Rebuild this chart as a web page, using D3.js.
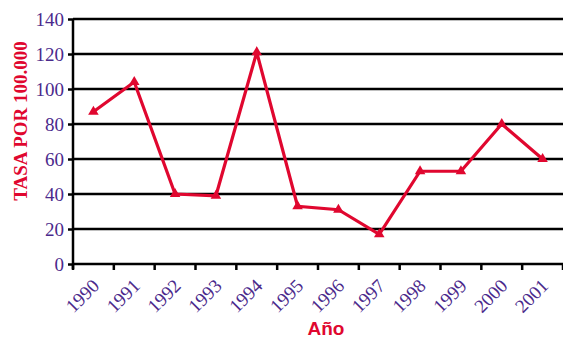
<!DOCTYPE html>
<html>
<head>
<meta charset="utf-8">
<script src="https://cdn.jsdelivr.net/npm/d3@7"></script>
<style>
  html, body { margin: 0; padding: 0; background: #fff; }
  svg { display: block; }
</style>
</head>
<body>
<svg id="chart" width="563" height="338"></svg>
<script>
// Annual rate per 100,000, 1990–2001
const years = ["1990","1991","1992","1993","1994","1995","1996","1997","1998","1999","2000","2001"];
const rates = [87, 104, 40, 39, 121, 33, 31, 17, 53, 53, 80, 60];
const yTicks = [0, 20, 40, 60, 80, 100, 120, 140];

const svg = d3.select("#chart");
const margin = { top: 19, right: 0, bottom: 74, left: 73 };
const W = 563, H = 338;
const innerW = W - margin.left - margin.right;
const innerH = H - margin.top - margin.bottom;

const purple = "#4b2a8c";
const red = "#e0072f";
const serif = "'Liberation Serif', 'Times New Roman', serif";

const g = svg.append("g").attr("transform", `translate(${margin.left},${margin.top})`);

const x = d3.scaleBand().domain(years).range([0, innerW]).padding(0);
const y = d3.scaleLinear().domain([0, 140]).range([innerH, 0]);

// horizontal gridlines
g.append("g")
  .selectAll("line")
  .data(yTicks.filter(d => d > 0))
  .join("line")
  .attr("x1", 0).attr("x2", innerW)
  .attr("y1", d => y(d)).attr("y2", d => y(d))
  .attr("stroke", "#000").attr("stroke-width", 2.5);

// y axis
const yAxis = g.append("g")
  .call(d3.axisLeft(y).tickValues(yTicks).tickSize(5).tickPadding(4).tickFormat(d3.format("d")));
yAxis.select(".domain").attr("stroke", "#000").attr("stroke-width", 2.5).attr("d", `M0,${innerH + 5}V0`);
yAxis.selectAll(".tick line").attr("stroke", "#000").attr("stroke-width", 2.5);
yAxis.selectAll(".tick text")
  .attr("fill", purple).attr("font-family", serif).attr("font-size", 19)
  .attr("dy", "0.32em");

// x axis with ticks at category boundaries
const xAxis = g.append("g").attr("transform", `translate(0,${innerH})`);
xAxis.append("line")
  .attr("x1", 0).attr("x2", innerW).attr("y1", 0).attr("y2", 0)
  .attr("stroke", "#000").attr("stroke-width", 2.5);
const boundaries = years.map(d => x(d)).concat([innerW]);
xAxis.selectAll("line.tk")
  .data(boundaries)
  .join("line").attr("class", "tk")
  .attr("x1", d => d).attr("x2", d => d)
  .attr("y1", 0).attr("y2", 6)
  .attr("stroke", "#000").attr("stroke-width", 2.5);
xAxis.selectAll("text")
  .data(years)
  .join("text")
  .attr("transform", d => `translate(${x(d) + x.bandwidth() / 2 + 7},${23}) rotate(-45)`)
  .attr("text-anchor", "end")
  .attr("fill", purple).attr("font-family", serif).attr("font-size", 19)
  .text(d => d);

// series line
const pts = years.map((d, i) => ({ year: d, v: rates[i] }));
const line = d3.line()
  .x(d => x(d.year) + x.bandwidth() / 2)
  .y(d => y(d.v));
g.append("path")
  .datum(pts)
  .attr("d", line)
  .attr("fill", "none")
  .attr("stroke", red)
  .attr("stroke-width", 3.2)
  .attr("stroke-linejoin", "miter");

// triangle markers
const tri = d3.symbol().type(d3.symbolTriangle).size(48);
g.append("g")
  .selectAll("path")
  .data(pts)
  .join("path")
  .attr("transform", d => `translate(${x(d.year) + x.bandwidth() / 2},${y(d.v)})`)
  .attr("d", tri)
  .attr("fill", red);

// axis titles
svg.append("text")
  .attr("transform", `translate(27,121) rotate(-90)`)
  .attr("text-anchor", "middle")
  .attr("fill", red).attr("font-family", serif).attr("font-weight", "bold").attr("font-size", 19)
  .text("TASA POR 100.000");

svg.append("text")
  .attr("x", 326).attr("y", 335)
  .attr("text-anchor", "middle")
  .attr("fill", red).attr("font-family", "'Liberation Sans', Arial, sans-serif").attr("font-weight", "bold").attr("font-size", 19)
  .text("Año");
</script>
</body>
</html>
